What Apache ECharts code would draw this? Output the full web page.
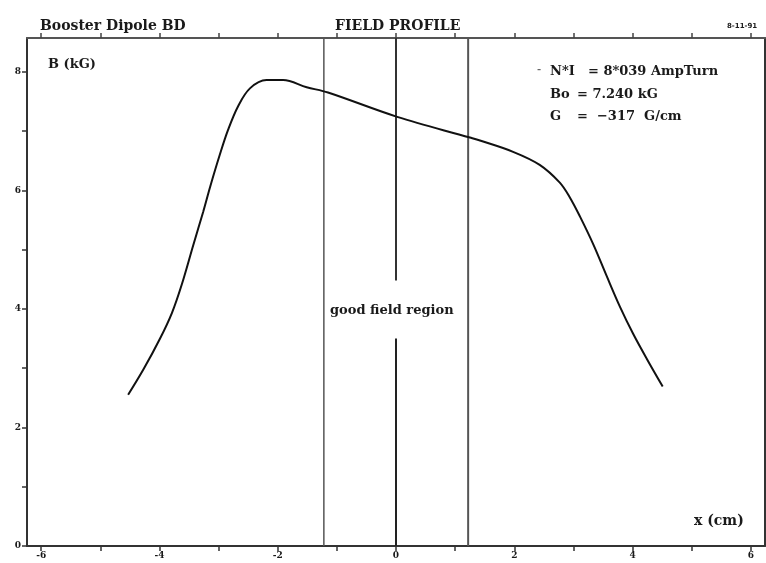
<!DOCTYPE html>
<html lang="en">
<head>
    <meta charset="utf-8">
    <title>Booster Dipole BD - Field Profile</title>
    <script src="https://cdn.jsdelivr.net/npm/echarts@6/dist/echarts.min.js"></script>
    <style>
        html, body { margin: 0; padding: 0; background: #fff; }
    </style>
</head>
<body>
<div id="main" style="width: 766px;height:563px;"></div>

<script type="text/javascript">
    // field profile: x (cm) and B (kG)
    var fieldX = [-4.53, -4.27, -3.99, -3.79, -3.62, -3.43, -3.26, -3.14, -2.98, -2.84, -2.67, -2.47, -2.19, -1.91, -1.51, -1.15, 0.02, 1.25, 1.42, 1.98, 2.43, 2.77, 2.94, 3.11, 3.34, 3.56, 3.79, 4.01, 4.24, 4.51];
    var fieldB = [2.55, 2.98, 3.5, 3.93, 4.42, 5.07, 5.64, 6.07, 6.6, 7.02, 7.42, 7.72, 7.86, 7.86, 7.74, 7.65, 7.24, 6.89, 6.84, 6.65, 6.43, 6.13, 5.88, 5.56, 5.08, 4.56, 4.03, 3.58, 3.16, 2.69];

    // good field region edges and the broken centre line
    var goodFieldEdges = [-1.22, 1.22];
    var centreGap = [3.5, 4.48];

    var xRange = [-6.24, 6.24];
    var yRange = [0, 8.57];
    var xTicks = [-6, -5, -4, -3, -2, -1, 0, 1, 2, 3, 4, 5, 6];
    var xTickLabels = [-6, -4, -2, 0, 2, 4, 6];
    var yTicks = [0, 1, 2, 3, 4, 5, 6, 7, 8];
    var yTickLabels = [0, 2, 4, 6, 8];

    var infoNames = ['N*I', 'Bo', 'G'];
    var infoValues = ['= 8*039 AmpTurn', '= 7.240 kG', '=  \u2212317  G/cm'];

    var myChart = echarts.init(document.getElementById('main'));

    var curve = fieldX.map(function (x, i) { return [x, fieldB[i]]; });

    var font = 'DejaVu Serif';
    var ink = '#1a1a1a';

    function vline(x, y0, y1, width, color) {
        return {
            type: 'line',
            data: [[x, y0], [x, y1]],
            showSymbol: false,
            silent: true,
            lineStyle: { color: color, width: width },
            z: 1
        };
    }

    var option = {
        backgroundColor: '#fff',
        animation: false,
        grid: { left: 27, right: 1, top: 38, bottom: 17 },
        xAxis: [{
            type: 'value',
            min: xRange[0],
            max: xRange[1],
            axisLine: { show: true, onZero: false, lineStyle: { color: '#333', width: 2 } },
            axisTick: { show: true, customValues: xTicks, length: 5, lineStyle: { color: '#333', width: 1.5 } },
            axisLabel: {
                customValues: xTickLabels, margin: 5,
                fontSize: 9, fontWeight: 'bold', color: ink, fontFamily: font
            },
            splitLine: { show: false }
        }, {
            type: 'value',
            position: 'top',
            min: xRange[0],
            max: xRange[1],
            axisLine: { show: true, onZero: false, lineStyle: { color: '#555', width: 2 } },
            axisTick: { show: true, customValues: xTicks, length: 5, lineStyle: { color: '#444', width: 1.5 } },
            axisLabel: { show: false },
            splitLine: { show: false }
        }],
        yAxis: [{
            type: 'value',
            min: yRange[0],
            max: yRange[1],
            axisLine: { show: true, onZero: false, lineStyle: { color: '#333', width: 2 } },
            axisTick: { show: true, customValues: yTicks, length: 5, lineStyle: { color: '#333', width: 1.5 } },
            axisLabel: {
                customValues: yTickLabels, margin: 6,
                fontSize: 9, fontWeight: 'bold', color: ink, fontFamily: font
            },
            splitLine: { show: false }
        }, {
            type: 'value',
            position: 'right',
            min: yRange[0],
            max: yRange[1],
            axisLine: { show: true, onZero: false, lineStyle: { color: '#333', width: 2 } },
            axisTick: { show: false },
            axisLabel: { show: false },
            splitLine: { show: false }
        }],
        series: [
            vline(goodFieldEdges[0], yRange[0], yRange[1], 1.5, '#555'),
            vline(goodFieldEdges[1], yRange[0], yRange[1], 2, '#555'),
            vline(0, yRange[0], centreGap[0], 2, '#222'),
            vline(0, centreGap[1], yRange[1], 2, '#333'),
            {
                name: 'B',
                type: 'line',
                data: curve,
                smooth: 0.35,
                showSymbol: false,
                lineStyle: { color: '#111', width: 2 },
                z: 3
            }
        ],
        graphic: [
            { type: 'text', left: 40, top: 19, style: { text: 'Booster Dipole BD', font: 'bold 14px DejaVu Serif', fill: ink } },
            { type: 'text', left: 335, top: 19, style: { text: 'FIELD PROFILE', font: 'bold 14px DejaVu Serif', fill: ink } },
            { type: 'text', left: 727, top: 23, style: { text: '8-11-91', font: 'bold 7px DejaVu Sans', fill: ink } },
            { type: 'text', left: 48, top: 58, style: { text: 'B (kG)', font: 'bold 13px DejaVu Serif', fill: ink } },
            { type: 'text', left: 537, top: 64, style: { text: '-', font: 'bold 10px DejaVu Serif', fill: '#666' } },
            { type: 'text', left: 550, top: 65, style: { text: infoNames[0], font: 'bold 13px DejaVu Serif', fill: ink } },
            { type: 'text', left: 588, top: 65, style: { text: infoValues[0], font: 'bold 13px DejaVu Serif', fill: ink } },
            { type: 'text', left: 550, top: 88, style: { text: infoNames[1], font: 'bold 13px DejaVu Serif', fill: ink } },
            { type: 'text', left: 577, top: 88, style: { text: infoValues[1], font: 'bold 13px DejaVu Serif', fill: ink } },
            { type: 'text', left: 550, top: 110, style: { text: infoNames[2], font: 'bold 13px DejaVu Serif', fill: ink } },
            { type: 'text', left: 577, top: 110, style: { text: infoValues[2], font: 'bold 13px DejaVu Serif', fill: ink } },
            { type: 'text', left: 330, top: 304, style: { text: 'good field region', font: 'bold 13px DejaVu Serif', fill: ink } },
            { type: 'text', left: 694, top: 514, style: { text: 'x (cm)', font: 'bold 14px DejaVu Serif', fill: ink } }
        ]
    };

    option && myChart.setOption(option);
</script>
</body>
</html>
